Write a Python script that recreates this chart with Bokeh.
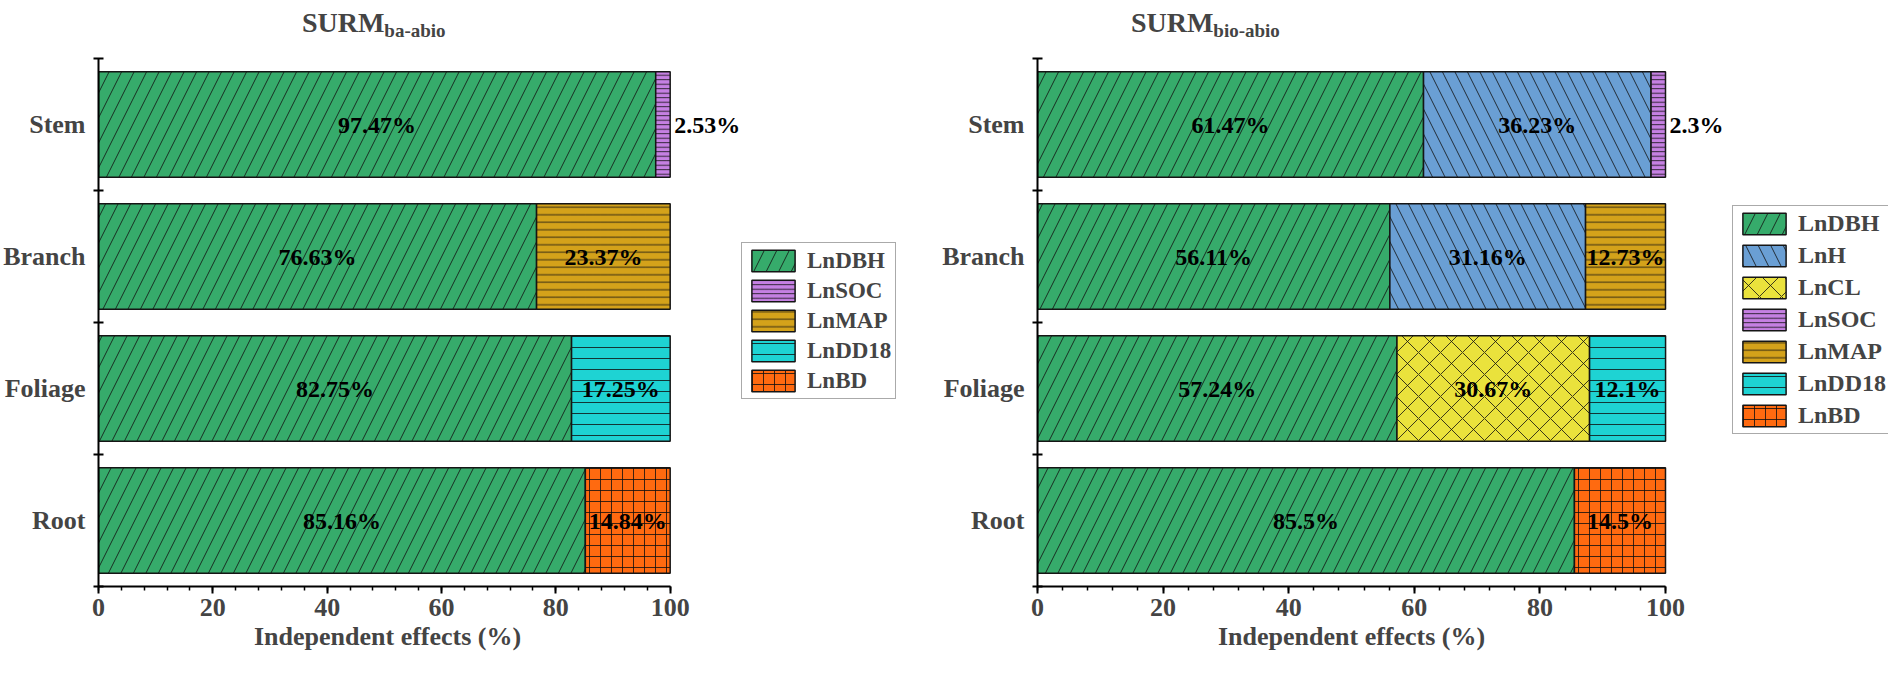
from bokeh.plotting import figure
from bokeh.models import Range1d, FixedTicker, Legend, LegendItem, Label, Title, ColumnDataSource
from bokeh.layouts import row
from bokeh.embed import file_html
from bokeh.resources import INLINE
from bokeh.core.properties import value

# ---------------- data ----------------
organs = ["Root", "Foliage", "Branch", "Stem"]          # bottom -> top
x_ticks = [0, 20, 40, 60, 80, 100]
x_title = "Independent effects (%)"

# SURM ba-abio (left panel), independent effects (%)
ba_vars = ["LnDBH", "LnSOC", "LnMAP", "LnDD18", "LnBD"]
ba_LnDBH = [85.16, 82.75, 76.63, 97.47]
ba_LnSOC = [0, 0, 0, 2.53]
ba_LnMAP = [0, 0, 23.37, 0]
ba_LnDD18 = [0, 17.25, 0, 0]
ba_LnBD = [14.84, 0, 0, 0]

# SURM bio-abio (right panel)
bio_vars = ["LnDBH", "LnH", "LnCL", "LnSOC", "LnMAP", "LnDD18", "LnBD"]
bio_LnDBH = [85.5, 57.24, 56.11, 61.47]
bio_LnH = [0, 0, 31.16, 36.23]
bio_LnCL = [0, 30.67, 0, 0]
bio_LnSOC = [0, 0, 0, 2.3]
bio_LnMAP = [0, 0, 12.73, 0]
bio_LnDD18 = [0, 12.1, 0, 0]
bio_LnBD = [14.5, 0, 0, 0]

ba_values = {"LnDBH": ba_LnDBH, "LnSOC": ba_LnSOC, "LnMAP": ba_LnMAP,
             "LnDD18": ba_LnDD18, "LnBD": ba_LnBD}
bio_values = {"LnDBH": bio_LnDBH, "LnH": bio_LnH, "LnCL": bio_LnCL, "LnSOC": bio_LnSOC,
              "LnMAP": bio_LnMAP, "LnDD18": bio_LnDD18, "LnBD": bio_LnBD}

# ---------------- styles ----------------
FONT = "Liberation Serif"
STYLE = {
    "LnDBH":  dict(fill_color="#36AB6B", hatch_pattern="/", hatch_scale=25),
    "LnH":    dict(fill_color="#6A9FD4", hatch_pattern="\\", hatch_scale=25),
    "LnCL":   dict(fill_color="#EAE23C", hatch_pattern="x", hatch_scale=22),
    "LnSOC":  dict(fill_color="#C580E2", hatch_pattern="-", hatch_scale=4.5),
    "LnMAP":  dict(fill_color="#D4A21A", hatch_pattern="-", hatch_scale=7.5),
    "LnDD18": dict(fill_color="#1ED3D3", hatch_pattern="-", hatch_scale=11),
    "LnBD":   dict(fill_color="#FF6A10", hatch_pattern="+", hatch_scale=11),
}

H = 662
BORDER_BOTTOM = 76
FRAME_H = H - BORDER_BOTTOM          # frame spans the full height above the x axis
PX_PER_CAT = 132                      # pixel height of one category slot
X_TITLE_W = 267                       # approx. pixel width of the x-axis title text


def make_panel(sub, variables, values, width, border_left, axis_px, title_x, legend_xy,
               glyph_h, spacing, legend_font):
    frame_w = width - border_left
    x_end = 100.0 * frame_w / axis_px
    y_end = FRAME_H / PX_PER_CAT
    n = len(organs)
    p = figure(width=width, height=H, output_backend="svg", toolbar_location=None,
               x_range=Range1d(0, x_end), y_range=Range1d(0, y_end),
               min_border_left=border_left, min_border_right=0,
               min_border_top=0, min_border_bottom=BORDER_BOTTOM)
    p.outline_line_color = None
    p.grid.visible = False
    p.background_fill_color = "white"

    ys = [i + 0.5 for i in range(n)]
    cum = [0.0] * n
    items = []
    in_lab = dict(x=[], y=[], text=[])
    out_lab = dict(x=[], y=[], text=[])
    for v in variables:
        vals = values[v]
        src = dict(y=[], left=[], right=[])
        for i, val in enumerate(vals):
            if val <= 0:
                continue
            src["y"].append(ys[i])
            src["left"].append(cum[i])
            src["right"].append(cum[i] + val)
            txt = f"{val:g}%"
            if val < 5:
                out_lab["x"].append(cum[i] + val)
                out_lab["y"].append(ys[i])
                out_lab["text"].append(txt)
            else:
                in_lab["x"].append(cum[i] + val / 2)
                in_lab["y"].append(ys[i])
                in_lab["text"].append(txt)
            cum[i] += val
        st = STYLE[v]
        r = p.hbar(y="y", left="left", right="right", height=0.8, source=ColumnDataSource(src),
                   fill_color=st["fill_color"], line_color="#151515", line_width=1.5,
                   hatch_pattern=st["hatch_pattern"], hatch_scale=st["hatch_scale"],
                   hatch_color="#101010", hatch_weight=0.9, hatch_alpha=0.9)
        items.append(LegendItem(label=v, renderers=[r]))

    common = dict(text_font=value(FONT), text_font_style="bold", text_font_size="24px",
                  text_baseline="middle", text_color="black")
    p.text(x="x", y="y", text="text", source=ColumnDataSource(in_lab), text_align="center", **common)
    p.text(x="x", y="y", text="text", source=ColumnDataSource(out_lab), text_align="left",
           x_offset=4, **common)

    # axes
    xa = p.xaxis[0]
    xa.bounds = (0, 100)
    xa.ticker = FixedTicker(ticks=x_ticks, minor_ticks=list(range(0, 101, 4)))
    xa.major_label_text_font = FONT
    xa.major_label_text_font_style = "bold"
    xa.major_label_text_font_size = "26px"
    xa.major_label_standoff = 5
    xa.axis_line_width = 2
    xa.major_tick_line_width = 2
    xa.minor_tick_line_width = 1.5
    xa.major_tick_in = 0
    xa.major_tick_out = 7
    xa.minor_tick_in = 0
    xa.minor_tick_out = 4

    # x-axis title, centred under the 0..100 part of the axis
    p.add_layout(Title(text=x_title, align="left", offset=axis_px / 2 - X_TITLE_W / 2,
                       vertical_align="bottom", standoff=2,
                       text_font=FONT, text_font_style="bold", text_font_size="26px"), "below")

    ya = p.yaxis[0]
    ya.bounds = (0, n)
    ya.ticker = FixedTicker(ticks=ys, minor_ticks=list(range(0, n + 1)))
    ya.major_label_overrides = {y: o for y, o in zip(ys, organs)}
    ya.major_label_text_font = FONT
    ya.major_label_text_font_style = "bold"
    ya.major_label_text_font_size = "26px"
    ya.major_label_standoff = 8
    ya.axis_line_width = 2
    ya.major_tick_in = 0
    ya.major_tick_out = 0
    ya.minor_tick_in = 5
    ya.minor_tick_out = 5
    ya.minor_tick_line_width = 2

    # title: SURM with subscript, just above the top of the y axis
    p.add_layout(Label(x=title_x, y=n + 36.0 / PX_PER_CAT, x_units="data", y_units="data",
                       text="SURM", text_align="right", text_baseline="alphabetic",
                       text_font=FONT, text_font_style="bold", text_font_size="28px"))
    p.add_layout(Label(x=title_x, y=n + 28.0 / PX_PER_CAT, x_units="data", y_units="data",
                       text=sub, text_align="left", text_baseline="alphabetic",
                       text_font=FONT, text_font_style="bold", text_font_size="19px"))

    legend = Legend(items=items, location=legend_xy, orientation="vertical",
                    glyph_width=54, glyph_height=glyph_h, label_height=glyph_h,
                    spacing=spacing, padding=4, margin=0, label_standoff=7,
                    label_text_font=FONT, label_text_font_style="bold",
                    label_text_font_size=legend_font, label_text_baseline="middle",
                    border_line_color="#555555", border_line_width=1,
                    background_fill_color="white", background_fill_alpha=1)
    p.add_layout(legend)
    return p


# left figure: page x 8..920, frame starts at x=97, axis 0..100 spans 578 px
left = make_panel("ba-abio", ba_vars, ba_values, width=912, border_left=89, axis_px=578,
                  title_x=50, legend_xy=(643, 187), glyph_h=27, spacing=3, legend_font="23px")
# right figure: page x 920..1896, frame starts at x=1045, axis 0..100 spans 628 px
right = make_panel("bio-abio", bio_vars, bio_values, width=976, border_left=125, axis_px=628,
                   title_x=28, legend_xy=(695, 152), glyph_h=27, spacing=5, legend_font="24px")

layout = row(left, right, spacing=0)
open("out.html", "w").write(file_html(layout, INLINE))
